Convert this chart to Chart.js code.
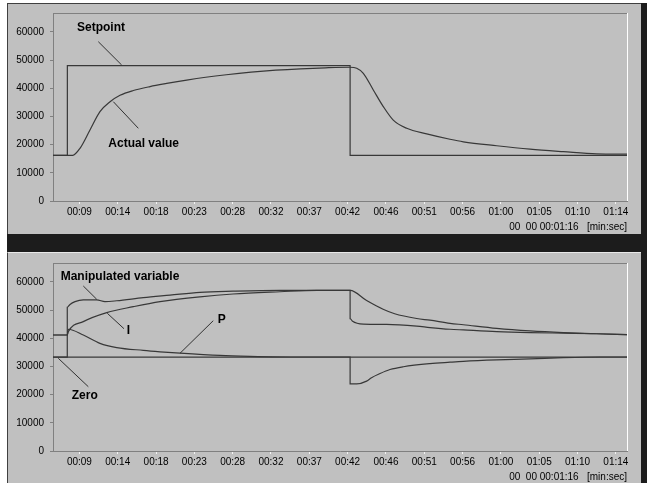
<!DOCTYPE html>
<html><head><meta charset="utf-8">
<script src="https://cdn.jsdelivr.net/npm/chart.js@4/dist/chart.umd.min.js"></script>
<style>
html,body{margin:0;padding:0;background:#1c1c1c;width:647px;height:483px;overflow:hidden;position:relative}
.strip{position:absolute;background:#fff}
.panel{position:absolute;background:#c0c0c0;box-sizing:border-box}
canvas{position:absolute;left:0}
</style></head><body>
<div class="strip" style="left:0;top:0;width:7px;height:483px"></div>
<div class="strip" style="left:0;top:0;width:647px;height:3px"></div>
<div class="panel" style="left:7px;top:3px;width:634px;height:231px;border-top:1px solid #404040;border-left:1px solid #404040"></div>
<div class="panel" style="left:7px;top:252px;width:634px;height:231px;border-top:1px solid #e8e8e8;border-left:1px solid #404040"></div>
<canvas id="c1" width="647" height="240" style="top:0"></canvas>
<canvas id="c2" width="647" height="233" style="top:250px"></canvas>
<script>
// ---- axis data ----
const xMin = 6.0, xMax = 75.55;
const tickTimes = [9.2, 13.84, 18.49, 23.13, 27.77, 32.41, 37.06, 41.7, 46.34, 50.99, 55.63, 60.27, 64.91, 69.56, 74.2];
const tickLabels = ['00:09','00:14','00:18','00:23','00:28','00:32','00:37','00:42','00:46','00:51','00:56','01:00','01:05','01:10','01:14'];
const yTicks = [0, 10000, 20000, 30000, 40000, 50000, 60000];
const yMax = 66700;
const timeCaption = '00  00 00:01:16   [min:sec]';

// ---- top chart series ----
const setpointTime  = [6.0, 7.74, 7.74, 42.0, 42.0, 75.55];
const setpointValue = [16200, 16200, 48000, 48000, 16200, 16200];
const actualTime  = [6.0, 8.39, 9.27, 10.48, 11.69, 12.91, 14.12, 15.73, 17.76, 19.78, 22.2, 24.5, 27.0, 30.0, 33.0, 36.0, 39.0, 41.99, 42.8, 43.6, 44.81, 46.02, 47.23, 48.86, 51.28, 54.1, 55.72, 59.76, 63.8, 67.83, 71.88, 75.55];
const actualValue = [16200, 16200, 18700, 25200, 31700, 35200, 37500, 39200, 40600, 41700, 42900, 43900, 44800, 45700, 46400, 46900, 47250, 47450, 47100, 45300, 39400, 33500, 28700, 25800, 23800, 21900, 21000, 19600, 18400, 17500, 16700, 16600];

// ---- bottom chart series ----
const zeroTime  = [6.0, 75.55];
const zeroValue = [33300, 33300];
const mvTime  = [6.0, 7.73, 7.73, 8.06, 8.67, 9.67, 11.3, 12.3, 13.72, 16.94, 20.18, 23.81, 27.81, 33.5, 37.99, 42.0, 42.0, 42.3, 43.6, 46.43, 50.07, 51.68, 54.1, 55.72, 59.76, 63.8, 67.83, 71.9, 75.55];
const mvValue = [33300, 33300, 51000, 52000, 53000, 53600, 53600, 53000, 53300, 54400, 55300, 56300, 56700, 57000, 57000, 57000, 47000, 46000, 45000, 44900, 44300, 43800, 43200, 42950, 42350, 42000, 41800, 41600, 41300];
const iTime  = [6.0, 7.73, 7.85, 9.67, 12.51, 15.73, 18.97, 23.81, 27.81, 33.5, 37.99, 42.0, 44.0, 46.0, 47.4, 50.07, 51.68, 54.1, 55.72, 59.76, 63.8, 67.83, 71.9, 75.55];
const iValue = [41150, 41150, 42300, 45900, 49100, 51200, 53000, 54700, 55700, 56500, 57000, 57000, 53400, 50300, 48700, 47000, 46400, 45300, 44800, 43500, 42600, 42000, 41600, 41300];
const pTime  = [6.0, 7.73, 7.85, 9.67, 11.69, 13.72, 16.94, 18.97, 21.39, 26.24, 29.87, 35.93, 42.0, 42.0, 42.8, 44.0, 44.6, 45.5, 46.83, 48.45, 51.68, 54.1, 55.72, 59.76, 63.8, 67.83, 72.28, 75.55];
const pValue = [41150, 41150, 43200, 41150, 38200, 36700, 35700, 35200, 34700, 33900, 33600, 33350, 33350, 23800, 23800, 24800, 26000, 27300, 28900, 29900, 31000, 31500, 31800, 32300, 32650, 33100, 33350, 33350];

const LINE = '#383838';
const FONT = 'Liberation Sans, Arial, sans-serif';

function pts(ts, vs){ return ts.map((t,i)=>({x:t, y:vs[i]})); }
function ds(ts, vs, curve){
  return {data: pts(ts, vs), borderColor: LINE, borderWidth: 1.2, pointRadius: 0,
    tension: 0, cubicInterpolationMode: curve ? 'monotone' : 'default', fill: false};
}

const decor = {
  id: 'decor',
  afterDraw(chart, args, opts){
    const ctx = chart.ctx, a = chart.chartArea, xs = chart.scales.x, ys = chart.scales.y;
    ctx.save();
    ctx.lineWidth = 1;
    ctx.strokeStyle = '#808080';
    ctx.beginPath(); ctx.moveTo(a.left, a.top + 0.5); ctx.lineTo(a.right, a.top + 0.5); ctx.stroke();
    ctx.strokeStyle = '#ffffff';
    ctx.beginPath(); ctx.moveTo(a.right + 0.5, a.top); ctx.lineTo(a.right + 0.5, a.bottom); ctx.stroke();
    ctx.strokeStyle = '#303030';
    ctx.fillStyle = '#000';
    ctx.font = 'bold 12px ' + FONT;
    ctx.textBaseline = 'middle';
    for (const n of opts.notes){
      ctx.lineWidth = 1;
      ctx.beginPath();
      ctx.moveTo(xs.getPixelForValue(n.l[0]), ys.getPixelForValue(n.l[1]));
      ctx.lineTo(xs.getPixelForValue(n.l[2]), ys.getPixelForValue(n.l[3]));
      ctx.stroke();
      ctx.textAlign = n.align || 'left';
      ctx.fillText(n.text, xs.getPixelForValue(n.t), ys.getPixelForValue(n.v));
    }
    ctx.font = '10px ' + FONT;
    ctx.textAlign = 'right';
    ctx.fillText(timeCaption, a.right, a.bottom + 26);
    ctx.restore();
  }
};

function makeChart(id, datasets, notes, xHeight){
  return new Chart(document.getElementById(id), {
    type: 'line',
    data: {datasets},
    options: {
      responsive: false, animation: false, devicePixelRatio: 1, events: [],
      layout: {padding: {left: 0, top: 13, right: 20, bottom: 0}},
      plugins: {legend: {display: false}, tooltip: {enabled: false}, decor: {notes}},
      scales: {
        x: {type: 'linear', min: xMin, max: xMax,
          afterBuildTicks: s => { s.ticks = tickTimes.map(v => ({value: v})); },
          afterFit: s => { s.height = xHeight; },
          ticks: {autoSkip: false, maxRotation: 0, color: '#000', padding: 2,
            font: {family: FONT, size: 10}, callback: (v, i) => tickLabels[i]},
          grid: {display: true, drawOnChartArea: false, drawTicks: true, tickLength: 3, color: '#f4f4f4'},
          border: {display: true, color: '#808080', width: 1}},
        y: {min: 0, max: yMax,
          afterBuildTicks: s => { s.ticks = yTicks.map(v => ({value: v})); },
          afterFit: s => { s.width = 53; },
          ticks: {color: '#000', padding: 6, font: {family: FONT, size: 10}, callback: v => String(v)},
          grid: {display: true, drawOnChartArea: false, drawTicks: true, tickLength: 3, color: '#808080'},
          border: {display: true, color: '#808080', width: 1}}
      }
    },
    plugins: [decor]
  });
}

makeChart('c1', [
  ds(setpointTime, setpointValue, false),
  ds(actualTime, actualValue, true)
], [
  {text: 'Setpoint', t: 8.91, v: 61490, l: [11.49, 56520, 14.32, 48250]},
  {text: 'Actual value', t: 12.7, v: 20470, l: [13.31, 35230, 16.34, 25790]}
], 39);

makeChart('c2', [
  ds(zeroTime, zeroValue, false),
  ds(pTime, pValue, true),
  ds(iTime, iValue, true),
  ds(mvTime, mvValue, true)
], [
  {text: 'Manipulated variable', t: 6.93, v: 61840, l: [9.67, 58540, 11.3, 53820]},
  {text: 'I', t: 15.15, v: 42750, align: 'center', l: [12.58, 48860, 14.6, 43390]},
  {text: 'P', t: 26.44, v: 46730, align: 'center', l: [25.42, 46230, 21.39, 34660]},
  {text: 'Zero', t: 8.27, v: 19510, l: [6.64, 32890, 10.28, 22810]}
], 32);
</script>
</body></html>
